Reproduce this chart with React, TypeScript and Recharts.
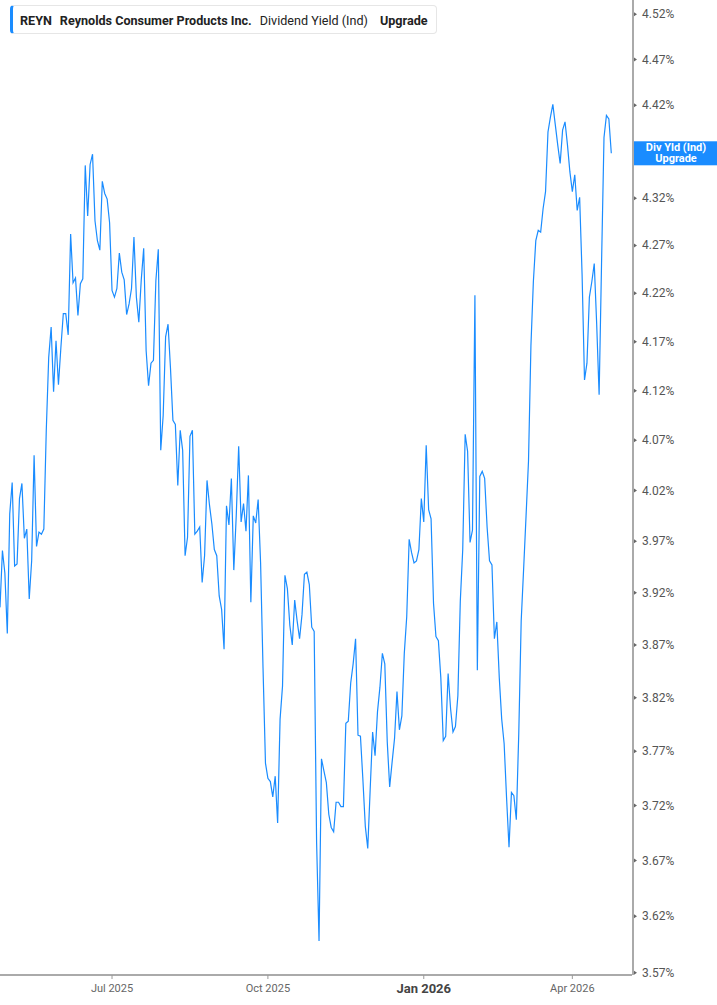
import React from "react";
import { LineChart, Line, XAxis, YAxis } from "recharts";

const startDate = "2025-04-24";
const holidays = [
  "2025-05-26", "2025-06-19", "2025-07-04", "2025-09-01", "2025-11-27",
  "2025-12-25", "2026-01-01", "2026-01-19", "2026-02-16", "2026-04-03",
];

// daily dividend yield (%)
const yieldValues = [
  3.906, 3.961, 3.939, 3.881, 3.997, 4.028, 3.946, 3.948, 4.012, 4.027,
  3.973, 3.982, 3.914, 3.951, 4.055, 3.965, 3.979, 3.977, 3.982, 4.080,
  4.154, 4.185, 4.119, 4.171, 4.126, 4.164, 4.199, 4.199, 4.177, 4.282,
  4.231, 4.236, 4.197, 4.230, 4.235, 4.355, 4.301, 4.356, 4.367, 4.296,
  4.275, 4.265, 4.338, 4.325, 4.319, 4.294, 4.223, 4.216, 4.225, 4.262,
  4.242, 4.234, 4.198, 4.209, 4.225, 4.279, 4.216, 4.190, 4.234, 4.267,
  4.161, 4.125, 4.148, 4.151, 4.233, 4.266, 4.060, 4.095, 4.175, 4.188,
  4.143, 4.090, 4.086, 4.025, 4.080, 4.060, 3.956, 3.974, 4.074, 4.080,
  3.977, 3.980, 3.984, 3.930, 3.956, 4.030, 4.006, 3.987, 3.962, 3.956,
  3.917, 3.904, 3.866, 4.005, 3.986, 4.032, 3.942, 3.995, 4.064, 3.989,
  4.007, 3.980, 4.035, 3.911, 3.995, 3.988, 4.011, 3.949, 3.848, 3.759,
  3.745, 3.742, 3.728, 3.747, 3.704, 3.800, 3.831, 3.937, 3.924, 3.889,
  3.870, 3.913, 3.893, 3.876, 3.899, 3.938, 3.940, 3.928, 3.887, 3.883,
  3.686, 3.598, 3.763, 3.752, 3.741, 3.712, 3.700, 3.696, 3.723, 3.723,
  3.719, 3.719, 3.796, 3.798, 3.834, 3.852, 3.876, 3.785, 3.784, 3.744,
  3.701, 3.681, 3.735, 3.788, 3.766, 3.807, 3.830, 3.862, 3.852, 3.779,
  3.737, 3.760, 3.782, 3.826, 3.790, 3.803, 3.862, 3.897, 3.972, 3.959,
  3.949, 3.951, 3.962, 4.012, 3.989, 4.065, 4.001, 3.992, 3.910, 3.878,
  3.874, 3.839, 3.780, 3.784, 3.843, 3.810, 3.788, 3.793, 3.822, 3.912,
  3.962, 4.076, 4.059, 3.969, 3.981, 4.218, 3.846, 4.034, 4.039, 4.032,
  3.984, 3.951, 3.947, 3.876, 3.892, 3.839, 3.800, 3.777, 3.727, 3.682,
  3.732, 3.729, 3.707, 3.786, 3.893, 3.943, 3.995, 4.049, 4.166, 4.232,
  4.275, 4.286, 4.284, 4.309, 4.327, 4.391, 4.407, 4.421, 4.399, 4.377,
  4.357, 4.393, 4.402, 4.377, 4.348, 4.327, 4.345, 4.307, 4.321, 4.240,
  4.131, 4.148, 4.216, 4.232, 4.251, 4.188, 4.116, 4.252, 4.385, 4.409,
  4.405, 4.368,
];

const yTicks = [
  3.57, 3.62, 3.67, 3.72, 3.77, 3.82, 3.87, 3.92, 3.97, 4.02,
  4.07, 4.12, 4.17, 4.22, 4.27, 4.32, 4.37, 4.42, 4.47, 4.52,
];
const yDomain = [3.568, 4.536];
const tickMonths = ["2025-07", "2025-10", "2026-01", "2026-04"];
const tickLabels = ["Jul 2025", "Oct 2025", "Jan 2026", "Apr 2026"];

function tradingDays(count: number) {
  const out: string[] = [];
  const d = new Date(startDate + "T00:00:00Z");
  while (out.length < count) {
    const wd = d.getUTCDay();
    const iso = d.toISOString().slice(0, 10);
    if (wd !== 0 && wd !== 6 && !holidays.includes(iso)) out.push(iso);
    d.setUTCDate(d.getUTCDate() + 1);
  }
  return out;
}

const dates = tradingDays(yieldValues.length);
const data = yieldValues.map((v, i) => ({ i, date: dates[i], v }));
const xTicks = tickMonths.map((m) => dates.findIndex((d) => d.startsWith(m)));
const lastValue = yieldValues[yieldValues.length - 1];

const FONT = "Roboto, sans-serif";
const BLUE = "#1a8cff";

const XTick = (props: any) => {
  const { x, y, payload } = props;
  const label = tickLabels[xTicks.indexOf(payload.value)];
  const bold = label === "Jan 2026";
  return (
    <text
      x={x}
      y={y + (bold ? 14 : 13)}
      textAnchor="middle"
      fontFamily={FONT}
      fontSize={bold ? 13 : 11}
      fontWeight={bold ? 700 : 400}
      fill={bold ? "#444" : "#666"}
    >
      {label}
    </text>
  );
};

const YTick = (props: any) => {
  const { x, y, payload } = props;
  return (
    <g>
      <polygon points={`${x + 1},${y - 2} ${x + 4},${y} ${x + 1},${y + 2}`} fill="#666" />
      <text x={x + 9} y={y + 4} fontFamily={FONT} fontSize={12} fill="#555">
        {payload.value.toFixed(2) + "%"}
      </text>
    </g>
  );
};

// last-value badge, drawn as the only tick of a thin extra axis beside the plot
const LastTick = (props: any) => {
  const { x, y } = props;
  const x0 = x + 2;
  return (
    <g>
      <rect x={x0} y={y - 12} width={86} height={24} fill={BLUE} />
      <text x={x0 + 42} y={y - 2} textAnchor="middle" fontFamily={FONT} fontSize={11} fontWeight={700} fill="#fff">
        Div Yld (Ind)
      </text>
      <text x={x0 + 42} y={y + 9} textAnchor="middle" fontFamily={FONT} fontSize={11} fontWeight={700} fill="#fff">
        Upgrade
      </text>
    </g>
  );
};

export default function App() {
  return (
    <div style={{ position: "absolute", left: 0, top: 0, width: 717, height: 1005, background: "#fff" }}>
      <LineChart width={717} height={1005} data={data} margin={{ top: 0, right: 0, bottom: 0, left: 0 }}>
        <XAxis
          dataKey="i"
          type="number"
          domain={[0, 259.5]}
          allowDataOverflow
          ticks={xTicks}
          height={30}
          tickSize={4}
          tickMargin={0}
          axisLine={{ stroke: "#aaa", strokeWidth: 2 }}
          tickLine={{ stroke: "#999" }}
          tick={<XTick />}
        />
        <YAxis
          yAxisId="main"
          orientation="right"
          type="number"
          scale="log"
          domain={yDomain}
          allowDataOverflow
          ticks={yTicks}
          width={84}
          tickSize={0}
          tickMargin={0}
          axisLine={{ stroke: "#aaa", strokeWidth: 2 }}
          tickLine={false}
          tick={<YTick />}
        />
        <YAxis
          yAxisId="badge"
          orientation="right"
          type="number"
          scale="log"
          domain={yDomain}
          allowDataOverflow
          ticks={[lastValue]}
          interval={0}
          width={1}
          tickSize={0}
          tickMargin={0}
          axisLine={false}
          tickLine={false}
          tick={<LastTick />}
        />
        <Line
          yAxisId="main"
          type="linear"
          dataKey="v"
          stroke={BLUE}
          strokeWidth={1.2}
          dot={false}
          activeDot={false}
          isAnimationActive={false}
        />
      </LineChart>
      <div
        style={{
          position: "absolute",
          left: 10,
          top: 5,
          width: 423,
          height: 26,
          boxSizing: "content-box",
          paddingTop: 1,
          border: "1px solid #e6e6e6",
          borderLeft: `3px solid ${BLUE}`,
          borderRadius: 4,
          background: "#fff",
          display: "flex",
          alignItems: "center",
          fontFamily: FONT,
          fontSize: 12.6,
          color: "#222",
          whiteSpace: "nowrap",
        }}
      >
        <span style={{ fontWeight: 700, marginLeft: 7 }}>REYN</span>
        <span style={{ fontWeight: 700, marginLeft: 8 }}>Reynolds Consumer Products Inc.</span>
        <span style={{ fontWeight: 400, marginLeft: 8 }}>Dividend Yield (Ind)</span>
        <span style={{ fontWeight: 700, marginLeft: 12 }}>Upgrade</span>
      </div>
    </div>
  );
}
